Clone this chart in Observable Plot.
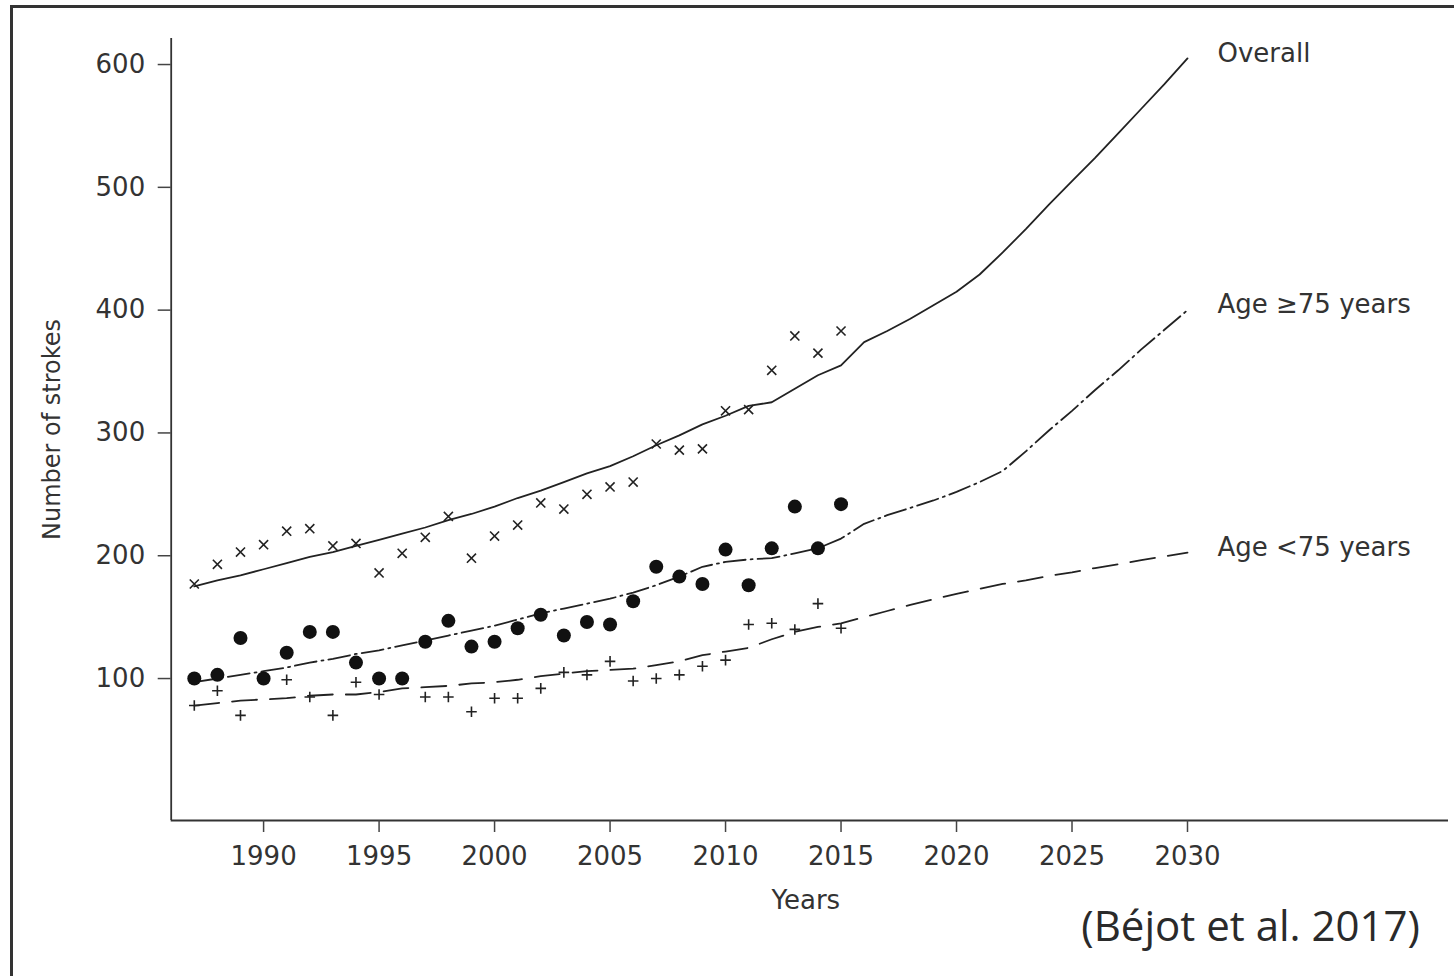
<!DOCTYPE html>
<html>
<head>
<meta charset="utf-8">
<script src="https://cdn.jsdelivr.net/npm/d3@7"></script>
<script src="https://cdn.jsdelivr.net/npm/@observablehq/plot@0.6"></script>
<style>
  html, body { margin: 0; padding: 0; background: #fff; overflow: hidden; }
  #wrap { position: relative; width: 1454px; height: 976px; }
  #frame { position: absolute; left: 10px; top: 5px; width: 1480px; height: 1000px; border: 3px solid #333; box-sizing: border-box; }
  #chart { position: absolute; left: 0; top: 0; }
  #caption { position: absolute; right: 34px; top: 896px; font-family: "Open Sans", sans-serif; font-size: 42px; color: #2a2a2a; white-space: nowrap; }
</style>
</head>
<body>
<div id="wrap">
  <div id="frame"></div>
  <div id="chart"></div>
  <div id="caption">(Béjot et al. 2017)</div>
</div>
<script>
// Observed years (markers)
const obsYears = [1987,1988,1989,1990,1991,1992,1993,1994,1995,1996,1997,1998,1999,2000,2001,2002,2003,2004,2005,2006,2007,2008,2009,2010,2011,2012,2013,2014,2015];
const overallObs = [177,193,203,209,220,222,208,210,186,202,215,232,198,216,225,243,238,250,256,260,291,286,287,318,319,351,379,365,383];
const oldObs     = [100,103,133,100,121,138,138,113,100,100,130,147,126,130,141,152,135,146,144,163,191,183,177,205,176,206,240,206,242];
const youngObs   = [78,90,70,null,99,85,70,97,87,null,85,85,73,84,84,92,105,103,114,98,100,103,110,115,144,145,140,161,141];

// Modelled / projected curves
const fitYears = [1987,1988,1989,1990,1991,1992,1993,1994,1995,1996,1997,1998,1999,2000,2001,2002,2003,2004,2005,2006,2007,2008,2009,2010,2011,2012,2013,2014,2015,2016,2017,2018,2019,2020,2021,2022,2023,2024,2025,2026,2027,2028,2029,2030];
const overallFit = [175,180,184,189,194,199,203,208,213,218,223,229,234,240,247,253,260,267,273,281,290,298,307,314,322,325,336,347,355,374,383,393,404,415,429,447,466,486,505,524,544,564,584,605];
const oldFit     = [97,100,103,106,109,113,116,120,123,127,131,135,139,143,148,153,157,161,165,170,176,183,191,195,197,198,202,206,214,226,233,239,245,252,260,269,285,302,318,335,351,368,384,400];
const youngFit   = [78,80,82,83,84,86,87,87,89,92,93,94,96,97,99,102,104,106,107,108,111,114,119,122,125,132,138,142,145,150,155,160,164.5,169,173,177,180,183.5,186.5,190,193,196.5,199.5,202.5];

const seriesNames = ["Overall", "Age \u226575 years", "Age <75 years"];
const xTicks = [1990,1995,2000,2005,2010,2015,2020,2025,2030];
const yTicks = [100,200,300,400,500,600];
const xTitle = "Years";
const yTitle = "Number of strokes";

const xDomain = [1986, 2041.3];
const yDomain = [-15.6, 621.2];

const obs = obsYears.map((year, i) => ({year, overall: overallObs[i], old: oldObs[i], young: youngObs[i]}));
const fit = fitYears.map((year, i) => ({year, overall: overallFit[i], old: oldFit[i], young: youngFit[i]}));
const last = fit[fit.length - 1];
const labels = [
  {name: seriesNames[0], year: last.year, value: last.overall},
  {name: seriesNames[1], year: last.year, value: last.old},
  {name: seriesNames[2], year: last.year, value: last.young}
];

const ink = "#222";
const chart = Plot.plot({
  width: 1454,
  height: 976,
  marginLeft: 170.7,
  marginRight: 6,
  marginTop: 38,
  marginBottom: 156,
  style: {fontFamily: "DejaVu Sans", fontSize: "26px", color: "#333", background: "transparent", overflow: "visible"},
  x: {domain: xDomain},
  y: {domain: yDomain},
  marks: [
    Plot.ruleY([yDomain[0]], {stroke: "#333", strokeWidth: 1.8}),
    Plot.ruleX([xDomain[0]], {stroke: "#333", strokeWidth: 1.8}),
    Plot.axisX({ticks: xTicks, tickSize: 12, tickPadding: 14, tickFormat: d => String(d), label: null, fontSize: 26, stroke: "#444", strokeWidth: 1.5}),
    Plot.axisY({ticks: yTicks, tickSize: 13, tickPadding: 13, label: null, fontSize: 26, stroke: "#444", strokeWidth: 1.5}),
    Plot.line(fit, {x: "year", y: "overall", stroke: ink, strokeWidth: 1.8}),
    Plot.line(fit, {x: "year", y: "old", stroke: ink, strokeWidth: 1.8, strokeDasharray: "22,5,2,5"}),
    Plot.line(fit, {x: "year", y: "young", stroke: ink, strokeWidth: 1.8, strokeDasharray: "25,13"}),
    Plot.dot(obs.filter(d => d.young != null), {x: "year", y: "young", symbol: "plus", r: 3.5, stroke: ink, strokeWidth: 1.6, fill: "none"}),
    Plot.dot(obs, {x: "year", y: "overall", symbol: "times", r: 4.2, stroke: ink, strokeWidth: 1.6, fill: "none"}),
    Plot.dot(obs, {x: "year", y: "old", r: 7, fill: "#111", stroke: "none"}),
    Plot.text(labels, {x: "year", y: "value", text: "name", textAnchor: "start", dx: 30, dy: -5, fontSize: 26, fill: "#333"}),
    Plot.text([yTitle], {frameAnchor: "left", textAnchor: "middle", text: d => d, rotate: -90, dx: -119, fontSize: 24, fill: "#333"}),
    Plot.text([xTitle], {frameAnchor: "bottom", textAnchor: "middle", lineAnchor: "middle", text: d => d, dy: 80, dx: -4, fontSize: 26, fill: "#333"})
  ]
});
document.getElementById("chart").appendChild(chart);
</script>
</body>
</html>
